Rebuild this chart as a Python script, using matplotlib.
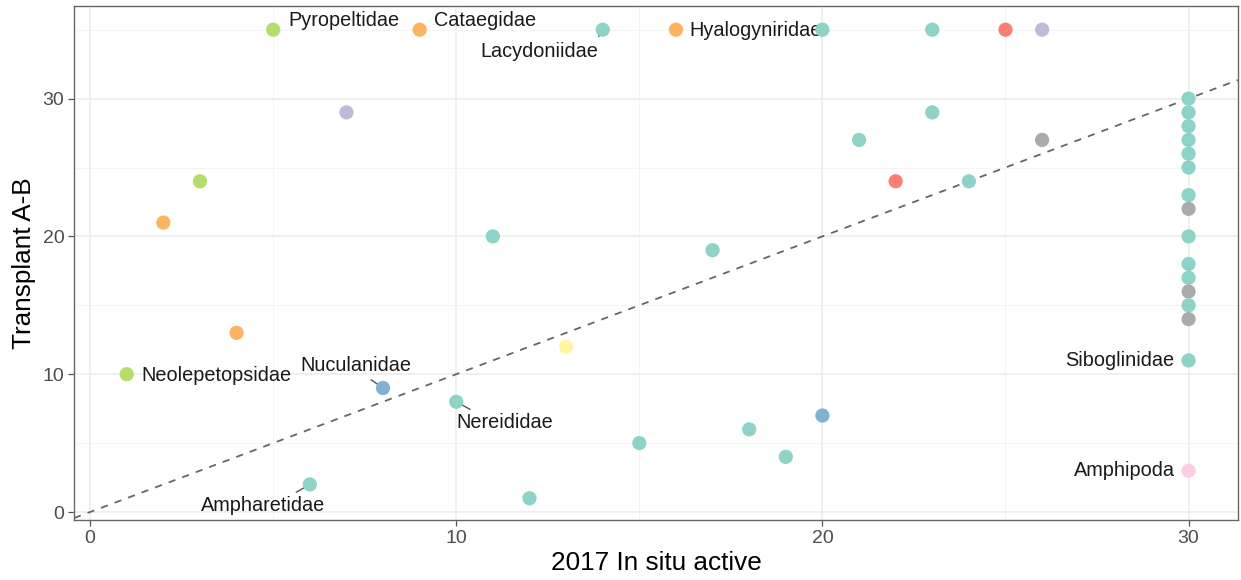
import matplotlib
matplotlib.use("Agg")
import matplotlib.pyplot as plt
from matplotlib.ticker import MultipleLocator

# Family counts: 2017 in situ active vs. transplant A-B
in_situ = [5, 9, 14, 16, 20, 23, 25, 26,
           7, 3, 2, 4, 1, 8, 6, 10, 11, 12, 13, 15, 17, 18, 19, 20,
           21, 22, 23, 24, 26,
           30, 30, 30, 30, 30, 30, 30, 30, 30, 30, 30, 30, 30, 30, 30, 30]
transplant = [35, 35, 35, 35, 35, 35, 35, 35,
              29, 24, 21, 13, 10, 9, 2, 8, 20, 1, 12, 5, 19, 6, 4, 7,
              27, 24, 29, 24, 27,
              30, 29, 28, 27, 26, 25, 23, 22, 20, 18, 17, 16, 15, 14, 11, 3]
group = ["green", "orange", "teal", "orange", "teal", "teal", "red", "purple",
         "purple", "green", "orange", "orange", "green", "blue", "teal", "teal",
         "teal", "teal", "yellow", "teal", "teal", "teal", "teal", "blue",
         "teal", "red", "teal", "teal", "grey",
         "teal", "teal", "teal", "teal", "teal", "teal", "teal", "grey", "teal",
         "teal", "teal", "grey", "teal", "grey", "teal", "pink"]

palette = {
    "teal": "#8DD3C7", "yellow": "#FFF7A0", "purple": "#BEBADA",
    "red": "#FB8072", "blue": "#80B1D3", "orange": "#FDB462",
    "green": "#B3DE69", "pink": "#FCCDE5", "grey": "#ABABAB",
}

# Labelled families: name, point, label position, alignment, leader anchor on text box
labels = [
    ("Pyropeltidae", (5, 35), (5.41, 35.7), "left", None),
    ("Cataegidae", (9, 35), (9.39, 35.7), "left", None),
    ("Lacydoniidae", (14, 35), (13.87, 33.45), "right", (0.98, 1.0)),
    ("Hyalogyniridae", (16, 35), (16.38, 34.95), "left", None),
    ("Neolepetopsidae", (1, 10), (1.39, 9.87), "left", None),
    ("Nuculanidae", (8, 9), (7.26, 10.6), "center", (0.58, 0.0)),
    ("Nereididae", (10, 8), (10.0, 6.46), "left", (0.22, 1.0)),
    ("Ampharetidae", (6, 2), (4.72, 0.44), "center", (0.71, 1.0)),
    ("Siboglinidae", (30, 11), (29.62, 11.0), "right", None),
    ("Amphipoda", (30, 3), (29.62, 3.0), "right", None),
]

plt.rcParams["font.family"] = ["Liberation Sans", "DejaVu Sans"]

fig = plt.figure(figsize=(12.41, 5.80), dpi=100)
ax = fig.add_axes([74 / 1241, 1 - 520 / 580, (1238 - 74) / 1241, (520 - 6) / 580])

ax.set_xlim(-0.44, 31.35)
ax.set_ylim(-0.58, 36.72)

# grid
ax.xaxis.set_major_locator(MultipleLocator(10))
ax.yaxis.set_major_locator(MultipleLocator(10))
ax.xaxis.set_minor_locator(MultipleLocator(5))
ax.yaxis.set_minor_locator(MultipleLocator(5))
ax.grid(which="major", color="#EBEBEB", linewidth=1.1, zorder=0)
ax.grid(which="minor", color="#F2F2F2", linewidth=0.6, zorder=0)
ax.set_axisbelow(True)

# 1:1 reference line
ax.axline((0, 0), slope=1, color="#666666", linestyle=(0, (4, 4)), linewidth=1.3, zorder=1)

# labels with leader lines
for name, pt, pos, ha, anchor in labels:
    if anchor is not None:
        ax.annotate(name, xy=pt, xytext=pos, ha=ha, va="center", fontsize=14.3,
                    color="#1A1A1A", zorder=2,
                    arrowprops=dict(arrowstyle="-", color="#555555", lw=1.0,
                                    relpos=anchor, shrinkA=2, shrinkB=0))
    else:
        ax.text(pos[0], pos[1], name, ha=ha, va="center", fontsize=14.3,
                color="#1A1A1A", zorder=2)

ax.scatter(in_situ, transplant, s=105, c=[palette[g] for g in group],
           edgecolors="none", zorder=3)

for side in ax.spines.values():
    side.set_color("#666666")
    side.set_linewidth(1.0)

ax.tick_params(which="major", length=4, width=0.9, color="#555555",
               labelsize=14, labelcolor="#4D4D4D", pad=3)
ax.tick_params(which="minor", length=0)

ax.set_xlabel("2017 In situ active", fontsize=18.8, labelpad=3)
ax.set_ylabel("Transplant A-B", fontsize=18.8, labelpad=5)

fig.savefig("out.png", dpi=100)
